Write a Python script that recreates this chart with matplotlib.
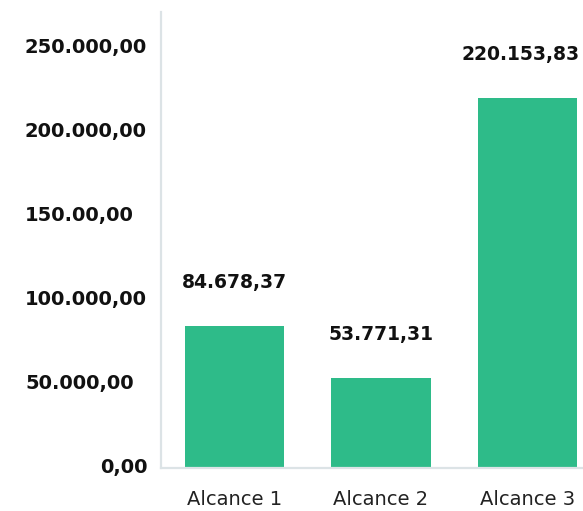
import matplotlib
matplotlib.use("Agg")
import matplotlib.pyplot as plt

categories = ["Alcance 1", "Alcance 2", "Alcance 3"]
values = [84678.37, 53771.31, 220153.83]
value_labels = ["84.678,37", "53.771,31", "220.153,83"]
ytick_values = [0, 50000, 100000, 150000, 200000, 250000]
ytick_labels = ["0,00", "50.000,00", "100.000,00", "150.00,00", "200.000,00", "250.000,00"]

plt.rcParams['font.family'] = ['DejaVu Sans']

W, H = 583, 511
fig = plt.figure(figsize=(W / 100, H / 100), dpi=100)
ax_left, ax_right, ax_bottom, ax_top = 161, 583, 468, 12
ax = fig.add_axes([ax_left / W, 1 - ax_bottom / H, (ax_right - ax_left) / W, (ax_bottom - ax_top) / H])

x = list(range(len(categories)))
bars = ax.bar(x, values, width=0.676, color="#2EBB89", zorder=2)

ax.set_xlim(-0.502, 2.379)
ax.set_ylim(0, 271000)

ax.set_xticks(x)
ax.set_xticklabels(categories, fontsize=14, color="#222222")
ax.tick_params(axis='x', length=0, pad=16)

ax.set_yticks(ytick_values)
ax.set_yticklabels([])
ax.tick_params(axis='y', length=0)

ytrans = ax.get_yaxis_transform()
axw = ax_right - ax_left
for v, lab in zip(ytick_values, ytick_labels):
    if lab == "0,00":
        ax.text((148 - ax_left) / axw, v, lab, transform=ytrans, ha='right', va='center',
                fontsize=14, fontweight='bold', color='#111111', clip_on=False)
    else:
        ax.text((25 - ax_left) / axw, v, lab, transform=ytrans, ha='left', va='center',
                fontsize=14, fontweight='bold', color='#111111', clip_on=False)

for i, (b, lab) in enumerate(zip(bars, value_labels)):
    dx = -5 if i == len(bars) - 1 else 0
    ax.annotate(lab, (b.get_x() + b.get_width() / 2, b.get_height()),
                xytext=(dx, 31), textcoords='offset points', ha='center', va='center',
                fontsize=13.5, fontweight='bold', color='#111111', annotation_clip=False)

for s in ['top', 'right']:
    ax.spines[s].set_visible(False)
for s in ['left', 'bottom']:
    ax.spines[s].set_color('#DCE3E6')
    ax.spines[s].set_linewidth(1.6)

fig.savefig("out.png", dpi=100)
